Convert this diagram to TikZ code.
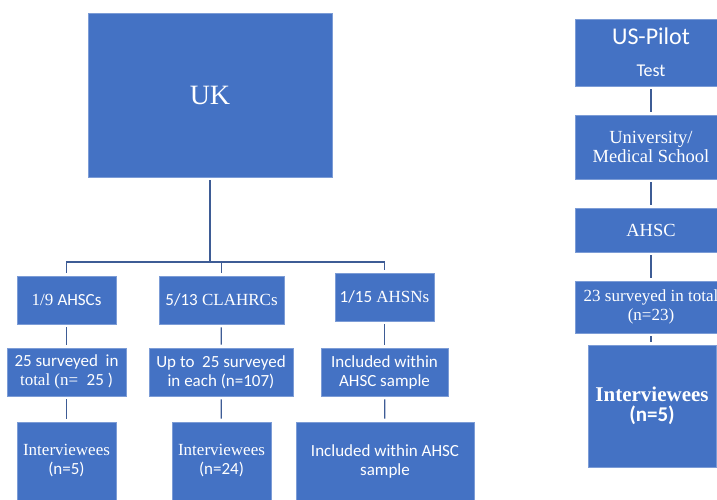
\documentclass[tikz,border=0pt]{standalone}
\usepackage{fontspec}
\setmainfont{Liberation Serif}
\newfontfamily\calib{Carlito}
\definecolor{boxblue}{HTML}{4472C4}
\definecolor{lineblue}{HTML}{3E5C95}
\tikzset{
  box/.style={fill=boxblue, draw=boxblue!70!white, line width=0.6pt, text=white, align=center, inner sep=0pt, font=\fontsize{17}{19}\selectfont},
  link/.style={draw=lineblue, line width=1.3pt, shorten <=3pt, shorten >=3pt},
}

\begin{document}
\begin{tikzpicture}[x=1pt,y=-1pt]
    \clip (0,0) rectangle (717,499);
    % UK tree
    \node (uk) at (210,95) [box, minimum width=244pt, minimum height=164pt, font=\fontsize{28}{30}\selectfont] {UK};
    \node (ahsc) at (66.5,300) [box, minimum width=99pt, minimum height=48pt] {1/9 {\calib AHSCs}};
    \node (clahrc) at (221.5,300) [box, minimum width=125pt, minimum height=48pt] {{\calib 5/13} CLAHRCs};
    \node (ahsn) at (384.5,297) [box, minimum width=99pt, minimum height=48pt] {{\calib 1/15} AHSNs};
    \node (ahscsurvey) at (66.5,372) [box, minimum width=119pt, minimum height=48pt] {{\calib 25 surveyed~~in}\\total (n=~~{\calib 25 )}};
    \node (clahrcsurvey) at (221,372) [box, minimum width=144pt, minimum height=48pt] {\calib Up to~~25 surveyed\\\calib in each (n=107)};
    \node (ahsnsurvey) at (384.5,372) [box, minimum width=127pt, minimum height=48pt] {\calib Included within\\\calib AHSC sample};
    \node (ahscint) at (66.5,461) [box, minimum width=99pt, minimum height=78pt] {Interviewees\\{\calib (n=5)}};
    \node (clahrcint) at (221.5,461) [box, minimum width=99pt, minimum height=78pt] {Interviewees\\{\calib (n=24)}};
    \node (ahsnint) at (385,461) [box, minimum width=178pt, minimum height=78pt] {\calib Included within AHSC\\\calib sample};
    \coordinate (hub) at (210,262);
    \draw[link, shorten >=0pt] (uk.south) -- (hub);
    \draw[link, shorten <=0pt] (hub) -| (ahsc.north);
    \draw[link, shorten <=0pt] (hub) -| (clahrc.north);
    \draw[link, shorten <=0pt] (hub) -| (ahsn.north);
    \draw[link] (ahsc) -- (ahscsurvey);
    \draw[link] (clahrc) -- (clahrcsurvey);
    \draw[link] (ahsn.south) -- (ahsnsurvey.north);
    \draw[link] (ahscsurvey) -- (ahscint);
    \draw[link] (clahrcsurvey) -- (clahrcint);
    \draw[link] (ahsnsurvey) -- (ahsnint);
    % US pilot column
    \node (pilot) at (651,52.5) [box, minimum width=152pt, minimum height=67pt] {{\calib\fontsize{24}{26}\selectfont US-Pilot}\\[13pt]{\calib\fontsize{18}{20}\selectfont Test}};
    \node (univ) at (651,147) [box, minimum width=152pt, minimum height=64pt, font=\fontsize{18.5}{19}\selectfont] {University/\\Medical School};
    \node (usahsc) at (651,230) [box, minimum width=152pt, minimum height=44pt, font=\fontsize{18.5}{19}\selectfont] {AHSC};
    \node (ussurvey) at (651,307) [box, minimum width=152pt, minimum height=52pt] {23 surveyed in total\\(n=23)};
    \node (usint) at (652,406) [box, minimum width=128pt, minimum height=122pt, font=\fontsize{21}{20}\selectfont] {\textbf{Interviewees}\\{\calib\bfseries (n=5)}};
    \draw[link] (pilot) -- (univ);
    \draw[link] (univ) -- (usahsc);
    \draw[link] (usahsc) -- (ussurvey);
    \draw[link] (ussurvey.south) -- (ussurvey.south |- usint.north);
\end{tikzpicture}
\end{document}
